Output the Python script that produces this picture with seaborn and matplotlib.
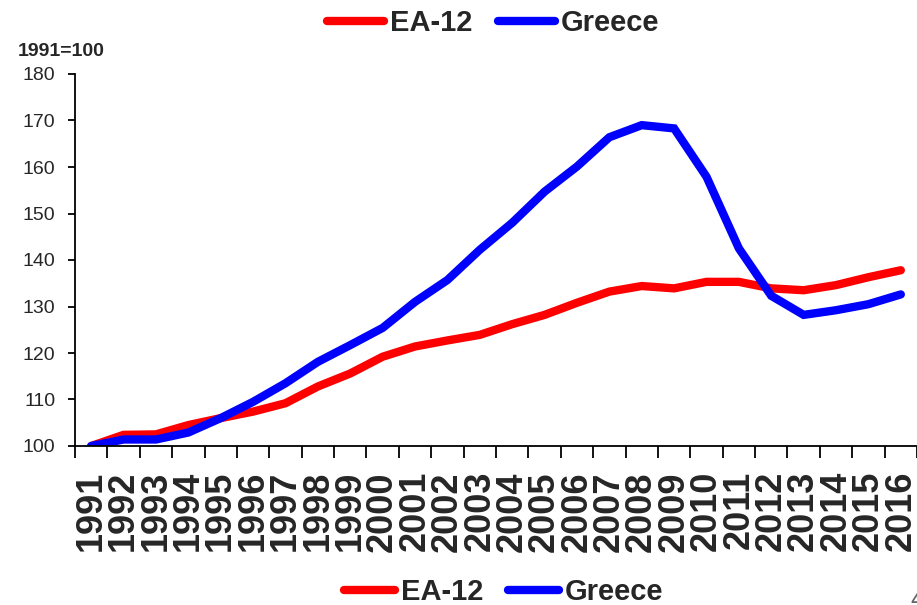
import matplotlib
matplotlib.use("Agg")
import matplotlib.pyplot as plt
from matplotlib.ticker import FixedLocator, NullFormatter, FixedFormatter
from matplotlib.lines import Line2D
import seaborn as sns
import pandas as pd

years = [str(y) for y in range(1991, 2017)]
ea12 = [100.0, 102.4, 102.5, 104.5, 106.0, 107.4, 109.2, 112.8, 115.6, 119.2,
        121.4, 122.7, 123.9, 126.2, 128.2, 130.8, 133.2, 134.4, 133.9, 135.3,
        135.3, 133.9, 133.5, 134.6, 136.3, 137.8]
greece = [100.0, 101.4, 101.4, 102.9, 106.0, 109.5, 113.5, 118.1, 121.7, 125.4,
          131.0, 135.7, 142.2, 148.0, 154.7, 160.1, 166.4, 169.0, 168.3, 157.9,
          142.5, 132.3, 128.2, 129.2, 130.5, 132.6]
series_names = ["EA-12", "Greece"]
series_colors = {"EA-12": "#FF0000", "Greece": "#0000FF"}
y_ticks = [100, 110, 120, 130, 140, 150, 160, 170, 180]

pos = list(range(len(years)))
df = pd.DataFrame({
    "pos": pos * 2,
    "value": ea12 + greece,
    "series": ["EA-12"] * len(years) + ["Greece"] * len(years),
})

sns.set_theme(style="white")
plt.rcParams["font.family"] = ["Liberation Sans", "DejaVu Sans"]

fig = plt.figure(figsize=(9.17, 6.05), dpi=100)
ax = fig.add_axes([75 / 917, 159 / 605, 842 / 917, 372 / 605])

sns.lineplot(data=df, x="pos", y="value", hue="series", hue_order=series_names,
             palette=series_colors, linewidth=6, ax=ax, legend=False,
             solid_capstyle="round", solid_joinstyle="miter")

ax.set_xlim(-0.5, len(years) - 0.5)
ax.set_ylim(100, 180)
ax.set_xlabel("")
ax.set_ylabel("")

# category axis: tick marks on boundaries, labels at centers
ax.xaxis.set_major_locator(FixedLocator([p - 0.5 for p in range(len(years) + 1)]))
ax.xaxis.set_major_formatter(NullFormatter())
ax.xaxis.set_minor_locator(FixedLocator(pos))
ax.xaxis.set_minor_formatter(FixedFormatter(years))
ax.tick_params(axis="x", which="major", direction="out", length=8.5, width=1.3,
               color="black", bottom=True)
ax.tick_params(axis="x", which="minor", length=0, pad=18, labelsize=26,
               labelrotation=90, bottom=True)
for lab in ax.xaxis.get_minorticklabels():
    lab.set_fontweight("bold")

ax.set_yticks(y_ticks)
ax.tick_params(axis="y", direction="out", length=5, width=1.3, color="black",
               labelsize=14, pad=9, left=True)

for side in ("top", "right"):
    ax.spines[side].set_visible(False)
for side in ("left", "bottom"):
    ax.spines[side].set_color("black")
    ax.spines[side].set_linewidth(1.3)
ax.grid(False)

fig.text(18 / 917, 1 - 51 / 605, "1991=100", fontsize=14, fontweight="bold",
         ha="left", va="center")

handles = [Line2D([0], [0], color=series_colors[n], linewidth=6,
                  solid_capstyle="round") for n in series_names]
fig.legend(handles, series_names, loc="center", bbox_to_anchor=(0.538, 1 - 23 / 605),
           ncol=2, frameon=False, handlelength=1.95, handletextpad=0.2,
           columnspacing=0.9, prop={"size": 21, "weight": "bold"})
fig.legend(handles, series_names, loc="center", bbox_to_anchor=(0.549, 1 - 592 / 605),
           ncol=2, frameon=False, handlelength=1.75, handletextpad=0.2,
           columnspacing=0.85, prop={"size": 21, "weight": "bold"})

# page number sitting at the lower right corner
fig.text(0.993, -0.012, "4", fontsize=18, color="#666666", ha="left", va="bottom")

fig.savefig("out.png", dpi=100)
